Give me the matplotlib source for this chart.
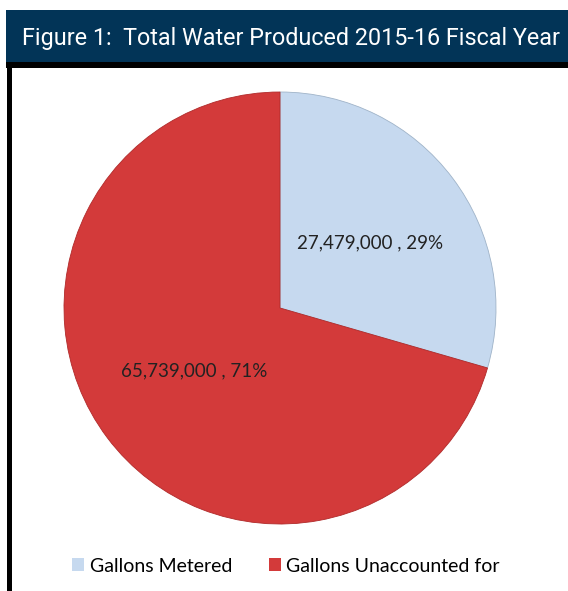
import matplotlib
matplotlib.use("Agg")
import matplotlib.pyplot as plt
from matplotlib.patches import Rectangle

title = "Figure 1:  Total Water Produced 2015-16 Fiscal Year"
categories = ["Gallons Metered", "Gallons Unaccounted for"]
values = [27479000, 65739000]
colors = ["#c6d9ef", "#d33a3a"]

W, H = 568, 591
fig = plt.figure(figsize=(W / 100, H / 100), dpi=100)
fig.patch.set_facecolor("white")

# header bar
fig.patches.append(Rectangle((6 / W, 1 - 62 / H), 1 - 6 / W, 52 / H,
                             transform=fig.transFigure, facecolor="#023457",
                             edgecolor="none", zorder=0))
fig.patches.append(Rectangle((6 / W, 1 - 68 / H), 1 - 6 / W, 6 / H,
                             transform=fig.transFigure, facecolor="black",
                             edgecolor="none", zorder=0))
# left border
fig.patches.append(Rectangle((7 / W, 0), 5 / W, 1 - 62 / H,
                             transform=fig.transFigure, facecolor="black",
                             edgecolor="none", zorder=0))
t = fig.text(291 / W, 1 - 38 / H, title, color="white", fontsize=22,
             family="Roboto", ha="center", va="center")
renderer = fig.canvas.get_renderer()
w = t.get_window_extent(renderer).width
t.set_fontsize(22 * 538 / w)

cx, cy, r = 280, 308, 216
ax = fig.add_axes([(cx - r) / W, 1 - (cy + r) / H, 2 * r / W, 2 * r / H])
total = sum(values)
wedges, _ = ax.pie(values, colors=colors, startangle=90, counterclock=False,
                   radius=1.0,
                   wedgeprops=dict(edgecolor="#9fb3c8", linewidth=0.6))
wedges[1].set_edgecolor("#b02a2a")
ax.set_xlim(-1, 1)
ax.set_ylim(-1, 1)
ax.set_aspect("auto")
ax.axis("off")

label_pos = [(0.415, 0.30), (-0.395, -0.29)]
for v, (x, y) in zip(values, label_pos):
    ax.text(x, y, f"{v:,} , {round(100 * v / total)}%", ha="center",
            va="center", fontsize=13.5, family="Lato", color="#222222")

handles = [Rectangle((0, 0), 1, 1, facecolor=c, edgecolor="none") for c in colors]
fig.legend(handles, categories, loc="center", bbox_to_anchor=(286 / W, 1 - 566 / H),
           ncol=2, frameon=False, prop=dict(family="Lato", size=14),
           handlelength=0.6, handleheight=0.6, handletextpad=0.3, columnspacing=1.9)

fig.savefig("out.png", dpi=100)
